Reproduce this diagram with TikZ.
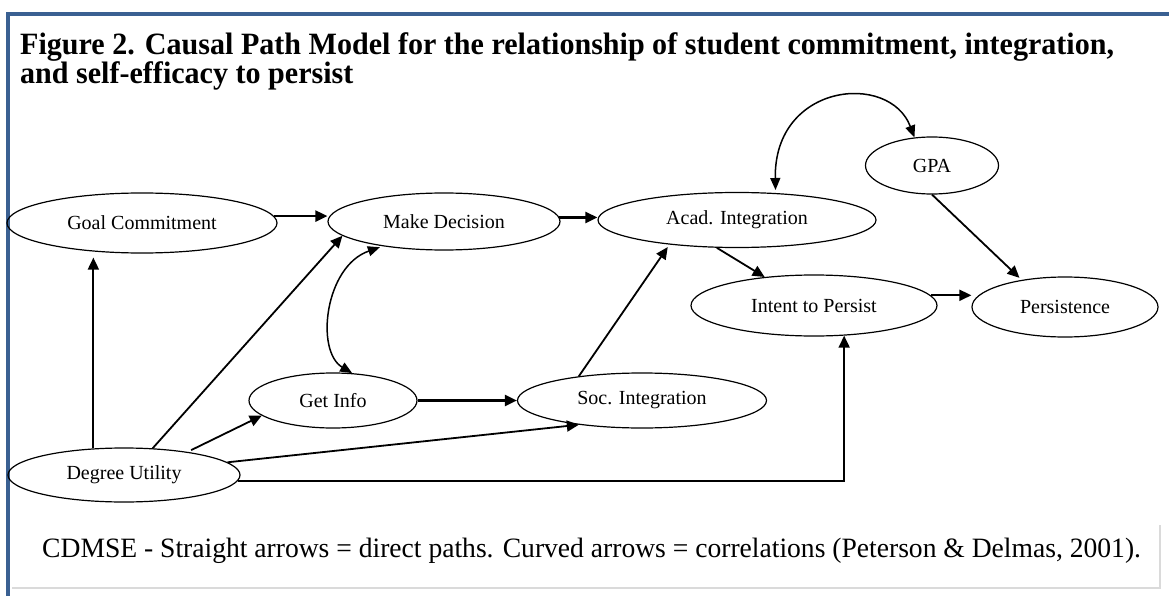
\documentclass[tikz,border=0pt]{standalone}
\usepackage{fontspec}
\setmainfont{Liberation Serif}
\usetikzlibrary{arrows.meta,shapes.geometric}
\definecolor{borderblue}{RGB}{58,96,146}
\definecolor{boxgray}{RGB}{218,218,218}
\begin{document}
\begin{tikzpicture}[x=1pt,y=-1pt,
  ell/.style={draw, line width=1.2pt, ellipse, inner sep=0pt, font=\fontsize{20}{22}\selectfont},
  arr/.style={line width=1.8pt, -{Triangle[length=12pt,width=11pt]}},
  corr/.style={line width=1.5pt, {Triangle[length=12pt,width=10pt]}-{Triangle[length=12pt,width=10pt]}},
  txt/.style={anchor=base west, inner sep=0pt}
]
\useasboundingbox (0,0) rectangle (1169,596);
\fill[white] (0,0) rectangle (1169,596);
\fill[borderblue] (6,12) rectangle (1169,16);
\fill[borderblue] (6,12) rectangle (10,596);

% title
\node[txt, font=\bfseries\fontsize{31}{31}\selectfont] (title1) at (20,55) {\scalebox{0.97}[1]{Figure 2. Causal Path Model for the relationship of student commitment, integration,}};
\node[txt, font=\bfseries\fontsize{31}{31}\selectfont] (title2) at (20,84) {\scalebox{0.97}[1]{and self-efficacy to persist}};

% nodes
\node[ell, minimum width=270pt, minimum height=60pt] (goal) at (142,223) {Goal Commitment};
\node[ell, minimum width=232pt, minimum height=57pt] (make) at (444,221.5) {Make Decision};
\node[ell, minimum width=278pt, minimum height=55pt] (acad) at (737,220) {Acad. Integration};
\node[ell, minimum width=133pt, minimum height=57pt] (gpa) at (932,165.5) {GPA};
\node[ell, minimum width=246pt, minimum height=61pt] (intent) at (814,305.5) {Intent to Persist};
\node[ell, minimum width=186pt, minimum height=60pt] (pers) at (1065,307) {Persistence};
\node[ell, minimum width=168pt, minimum height=55pt] (getinfo) at (333,400.5) {Get Info};
\node[ell, minimum width=249pt, minimum height=55pt] (soc) at (642,400.5) {Soc. Integration};
\node[ell, minimum width=232pt, minimum height=54pt] (degree) at (124,475) {Degree Utility};

% connectors
\draw[arr, line width=2.4pt] (goal.3) -- (goal.3 -| make.west);
\draw[arr, line width=2.4pt] (make.2) -- (make.2 -| acad.west);
\draw[arr, shorten >=4pt] (degree.139) -- (degree.139 |- goal.south);
\draw[arr] (degree.43) -- (make.188);
\draw[corr, shorten <=3pt] (make.202) .. controls +(-58,20) and +(-37,-22) .. (getinfo.55);
\draw[arr, shorten <=4pt] (degree.20) -- (getinfo.192);
\draw[arr] (degree.7) -- (soc.201);
\draw[arr, line width=2.2pt] (getinfo.0) -- (soc.180);
\draw[arr, shorten >=3pt] (soc.159) -- (acad.200);
\draw[arr] (acad.234) -- (intent.150);
\draw[arr] (intent.5) -- (intent.5 -| pers.west);
\draw[arr, shorten >=3pt] (gpa.south) -- (pers.148);
\draw[arr] (degree.-3) -| (intent.315);
\draw[corr, shorten <=3pt] (acad.35) .. controls +(-2,-110) and +(-25,-66) .. (gpa.122);

% caption
\draw[boxgray, line width=2pt] (12,588) -- (1160,588) -- (1160,525);
\node[txt, font=\fontsize{28}{28}\selectfont] (caption) at (42,557) {\scalebox{0.985}[1]{CDMSE - Straight arrows = direct paths. Curved arrows = correlations (Peterson \& Delmas, 2001).}};
\end{tikzpicture}
\end{document}
